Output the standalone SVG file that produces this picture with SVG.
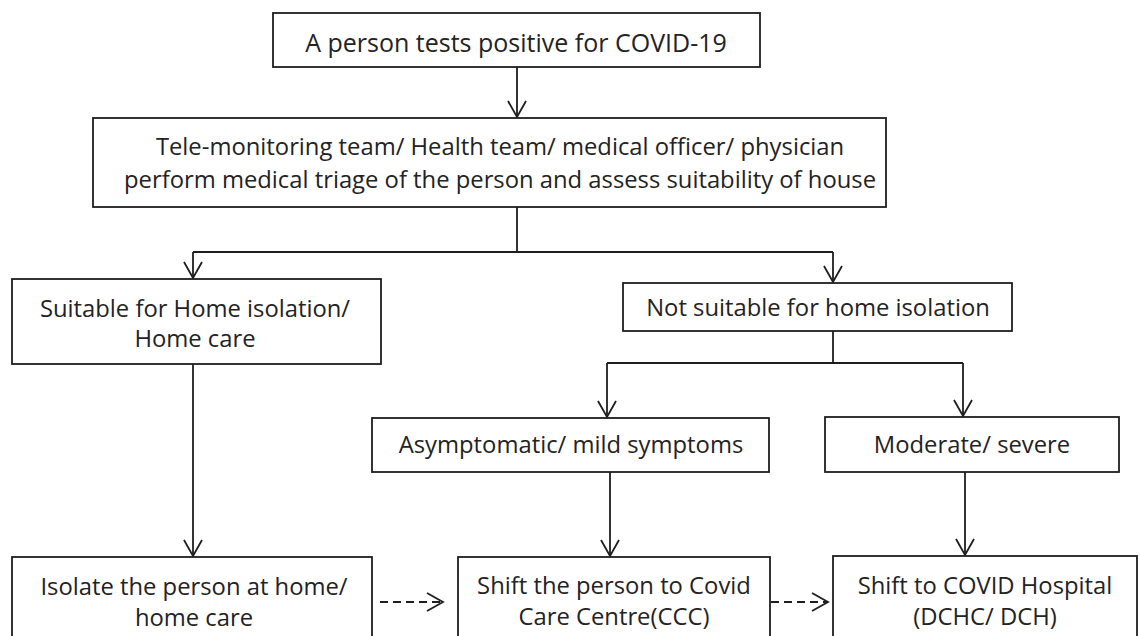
<svg xmlns="http://www.w3.org/2000/svg" width="1140" height="636" viewBox="0 0 1140 636">
  <style>
    .box { fill: #ffffff; stroke: #1e1e1e; stroke-width: 1.8; }
    .lbl { font-family: "Open Sans", "Liberation Sans", sans-serif; font-size: 23.8px; fill: #232323; text-anchor: middle; }
    .big { font-size: 25px; }
    .con { fill: none; stroke: #1e1e1e; stroke-width: 1.8; }
    .dash { stroke-dasharray: 8 5; }
  </style>
  <defs>
    <marker id="arr" viewBox="-18 -11 20 22" refX="0" refY="0" markerWidth="20" markerHeight="22" markerUnits="userSpaceOnUse" orient="auto">
      <path d="M-16,-9 L0,0 L-16,9" fill="none" stroke="#1e1e1e" stroke-width="1.8"/>
    </marker>
  </defs>
  <rect width="1140" height="636" fill="#ffffff"/>

  <g id="connectors">
    <path class="con" d="M517,67 V117" marker-end="url(#arr)"/>
    <path class="con" d="M517,207 V252 M193,252 H833"/>
    <path class="con" d="M193,252 V278" marker-end="url(#arr)"/>
    <path class="con" d="M833,252 V282" marker-end="url(#arr)"/>
    <path class="con" d="M833,331 V363 M607,363 H963"/>
    <path class="con" d="M607,363 V417" marker-end="url(#arr)"/>
    <path class="con" d="M963,363 V416" marker-end="url(#arr)"/>
    <path class="con" d="M193,364 V556" marker-end="url(#arr)"/>
    <path class="con" d="M610,472 V556" marker-end="url(#arr)"/>
    <path class="con" d="M965,472 V555" marker-end="url(#arr)"/>
    <path class="con dash" d="M380,602 H443" marker-end="url(#arr)"/>
    <path class="con dash" d="M771,602 H828" marker-end="url(#arr)"/>
  </g>

  <g id="n1">
    <rect class="box" x="273" y="13" width="487" height="54"/>
    <text class="lbl big" x="516" y="52">A person tests positive for COVID-19</text>
  </g>
  <g id="n2">
    <rect class="box" x="93" y="118" width="793" height="89"/>
    <text class="lbl" x="500" y="155">Tele-monitoring team/ Health team/ medical officer/ physician</text>
    <text class="lbl" x="500" y="188">perform medical triage of the person and assess suitability of house</text>
  </g>
  <g id="n3">
    <rect class="box" x="12" y="279" width="369" height="85"/>
    <text class="lbl" x="195" y="317">Suitable for Home isolation/</text>
    <text class="lbl" x="195" y="347">Home care</text>
  </g>
  <g id="n4">
    <rect class="box" x="623" y="283" width="389" height="48"/>
    <text class="lbl" x="818" y="316">Not suitable for home isolation</text>
  </g>
  <g id="n5">
    <rect class="box" x="372" y="418" width="397" height="54"/>
    <text class="lbl" x="571" y="453">Asymptomatic/ mild symptoms</text>
  </g>
  <g id="n6">
    <rect class="box" x="825" y="417" width="294" height="55"/>
    <text class="lbl" x="972" y="453">Moderate/ severe</text>
  </g>
  <g id="n7">
    <rect class="box" x="12" y="557" width="360" height="90"/>
    <text class="lbl" x="194" y="595">Isolate the person at home/</text>
    <text class="lbl" x="194" y="626">home care</text>
  </g>
  <g id="n8">
    <rect class="box" x="458" y="557" width="312" height="90"/>
    <text class="lbl" x="614" y="594">Shift the person to Covid</text>
    <text class="lbl" x="614" y="625">Care Centre(CCC)</text>
  </g>
  <g id="n9">
    <rect class="box" x="833" y="556" width="304" height="91"/>
    <text class="lbl" x="985" y="594">Shift to COVID Hospital</text>
    <text class="lbl" x="985" y="625">(DCHC/ DCH)</text>
  </g>
</svg>
